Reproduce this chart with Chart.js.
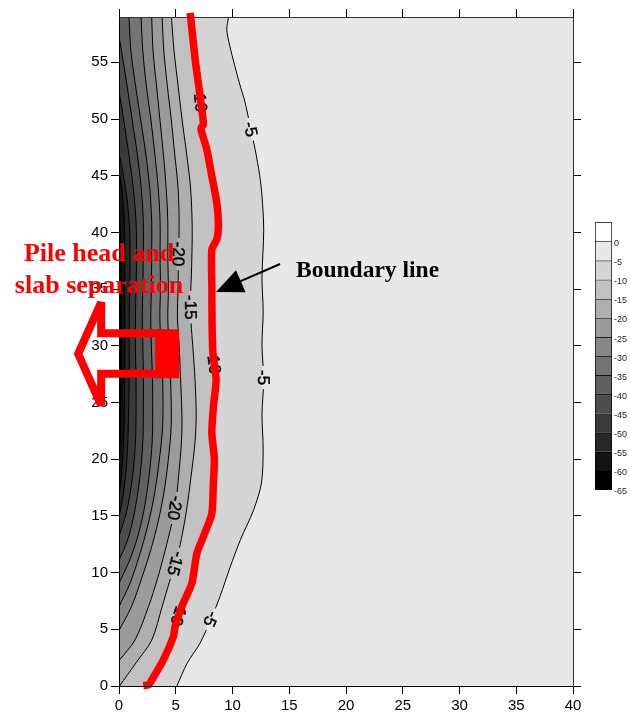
<!DOCTYPE html>
<html>
<head>
<meta charset="utf-8">
<script src="https://cdn.jsdelivr.net/npm/chart.js"></script>
<style>
  html, body { margin: 0; padding: 0; background: #fff; }
  #wrap { position: relative; width: 630px; height: 717px; }
  #main { position: absolute; left: 0; top: 0; }
  #scaleBar { position: absolute; left: 595px; top: 212px; }
</style>
</head>
<body>
<div id="wrap">
  <canvas id="main" width="630" height="717"></canvas>
  <canvas id="scaleBar" width="35" height="288"></canvas>
</div>
<script>
// ---- Contour data: each path is a list of [x, y] points, bottom to top ----
const contourLevels = [-5, -10, -15, -20, -25, -30, -35, -40, -45, -50, -55, -60];

const contour5 = [[5.1,0],[6.0,2.0],[7.15,3.8],[8.1,5.9],[8.9,7.9],[9.8,10.5],[10.7,12.9],[11.85,15.5],[12.55,17.9],[12.7,20.8],[12.6,24],[12.75,27],[12.6,30],[12.7,33],[12.6,36],[12.75,40.2],[12.6,43.2],[12.4,45],[12.0,47.3],[11.55,49.4],[11.1,51.5],[10.6,53.2],[10.2,54.7],[9.75,56.5],[9.5,57.9],[9.65,59]];
const contour10 = [[2.5,0],[2.95,0.6],[3.91,2.3],[4.79,4.35],[4.94,5.23],[5.53,7.0],[6.42,9.06],[6.86,11.7],[7.44,13.2],[8.18,15.2],[8.3,17.5],[8.4,20.0],[8.18,22.3],[8.32,24.65],[8.56,27.0],[8.27,29.4],[8.2,32.0],[8.18,35.2],[8.18,38.5],[8.62,39.4],[8.76,40.6],[8.62,42.6],[8.18,44.95],[7.74,47.3],[7.35,49.3],[7.15,52.0],[6.71,55.25],[6.3,59]];
const contour15 = [[0.05,0],[1.5,2.05],[2.89,4.06],[3.8,7.0],[4.45,9.2],[5.0,10.8],[5.5,13.0],[5.95,15.5],[6.35,18.5],[6.7,21.5],[6.8,24],[6.7,27],[6.5,30],[6.35,32],[6.3,34],[6.4,37],[6.45,40.5],[6.3,44],[5.95,47],[5.55,50],[5.2,53],[4.85,56],[4.62,59]];
const contour20 = [[0,2.23],[1.41,4.06],[2.6,7.0],[3.4,9.5],[3.95,11.5],[4.45,13.5],[4.94,15.7],[5.25,18.5],[5.5,21.5],[5.55,23.5],[5.45,26.5],[5.3,30],[5.15,32.5],[5.2,35],[5.25,38.2],[5.3,41],[5.2,44],[4.9,47],[4.6,50],[4.25,53],[3.95,56],[3.8,59]];
const contour25 = [[0,4.9],[1.1,7.0],[2.0,9.5],[2.8,12.0],[3.45,14.5],[3.95,17.0],[4.35,20],[4.6,23],[4.55,27],[4.4,30],[4.3,32.5],[4.35,35],[4.3,38],[4.3,41],[4.15,44],[3.9,47],[3.6,50],[3.3,53],[3.0,56],[2.88,59]];
const contour30 = [[0,7.0],[0.95,9.0],[1.8,11.5],[2.5,14.0],[3.05,16.5],[3.5,19.5],[3.85,23],[3.85,27],[3.7,30],[3.6,32.5],[3.65,35],[3.62,38],[3.62,41],[3.45,44],[3.15,47],[2.8,50],[2.4,53],[2.1,56],[1.94,59]];
const contour35 = [[0,9.06],[0.9,11.0],[1.6,13.0],[2.2,15.5],[2.65,18.5],[2.92,21.5],[2.97,24],[2.95,27],[2.85,30],[2.8,32.5],[2.85,35],[2.88,38],[2.88,41],[2.7,44],[2.35,47],[1.9,50],[1.45,53],[1.05,56],[0.88,59]];
const contour40 = [[0,11.1],[0.8,13.0],[1.4,15.5],[1.85,18.5],[2.1,21.5],[2.14,24],[2.15,27],[2.1,30],[2.05,32.5],[2.1,35],[2.14,38],[2.14,41],[1.95,44],[1.6,47],[1.15,50],[0.7,53],[0.3,55.5],[0,57.3]];
const contour45 = [[0,13.2],[0.7,15.5],[1.2,18.5],[1.45,21.5],[1.5,24],[1.5,27],[1.45,30],[1.45,32.5],[1.5,35],[1.55,38],[1.5,41],[1.25,44],[0.85,47],[0.4,50],[0,52.5]];
const contour50 = [[0,14.9],[0.4,17],[0.7,20],[0.85,24],[0.9,28],[0.9,32],[0.95,36],[0.95,40],[0.7,43],[0.3,45.5],[0,47]];
const contour55 = [[0,16.7],[0.25,19],[0.45,23],[0.5,28],[0.5,34],[0.5,40],[0.3,43.5],[0,45.5]];
const contour60 = [[0,19.0],[0.12,22],[0.18,28],[0.18,34],[0.15,39],[0,42]];

const contourPaths = [contour5, contour10, contour15, contour20, contour25, contour30,
                      contour35, contour40, contour45, contour50, contour55, contour60];

// Hand-drawn boundary between the separated and bonded zones
const boundaryLine = [[2.14,0.04],[2.59,0.09],[2.89,0.53],[3.91,2.3],[4.79,4.35],[4.94,5.23],[5.53,7.0],[6.42,9.06],[6.86,11.7],[7.44,13.2],[8.18,15.2],[8.3,17.5],[8.4,20.0],[8.18,22.3],[8.32,24.65],[8.56,27.0],[8.27,29.4],[8.2,32.0],[8.18,35.2],[8.18,38.5],[8.62,39.4],[8.76,40.6],[8.62,42.6],[8.18,44.95],[7.74,47.3],[7.21,49.2],[7.44,49.5],[7.15,52.0],[6.71,55.25],[6.27,59.37]];

// Axis ticks
const xTicks = [0, 5, 10, 15, 20, 25, 30, 35, 40];
const yTicks = [0, 5, 10, 15, 20, 25, 30, 35, 40, 45, 50, 55];

// Colour scale: band edges (top to bottom) and their shades
const scaleBarTicks = [0, -5, -10, -15, -20, -25, -30, -35, -40, -45, -50, -55, -60, -65];
const bandShades = ['#ffffff', '#e8e8e8', '#d5d5d5', '#c1c1c1', '#aeaeae', '#9b9b9b', '#878787',
                    '#747474', '#616161', '#4d4d4d', '#3a3a3a', '#272727', '#131313', '#000000'];

// Where the contour values are written along their lines (level, height)
const labelLevels = [-5, -5, -5, -10, -10, -10, -15, -15, -20, -20];
const labelHeights = [49.1, 27.2, 5.9, 51.7, 28.6, 6.4, 33.4, 10.8, 38.1, 15.7];

const SANS = "'Liberation Sans', Arial, sans-serif";
const SERIF = "'Liberation Serif', 'Times New Roman', serif";
Chart.defaults.font.family = SANS;

function shadeFor(level) { return bandShades[-level / 5 + 1]; }

function xAt(path, y) {
  for (let k = 1; k < path.length; k++) {
    const [x0, y0] = path[k - 1], [x1, y1] = path[k];
    if (y >= y0 && y <= y1) {
      const t = y1 === y0 ? 0 : (y - y0) / (y1 - y0);
      return x0 + t * (x1 - x0);
    }
  }
  return path[path.length - 1][0];
}

const datasets = contourLevels.map((lvl, i) => ({
  label: String(lvl),
  data: contourPaths[i].map(([x, y]) => ({ x, y })),
  xAxisID: 'x', yAxisID: 'y',
  borderColor: '#000',
  borderWidth: 1,
  tension: 0.3,
  backgroundColor: shadeFor(lvl),
  fill: { value: 0 },
  pointRadius: 0, pointHoverRadius: 0, pointHitRadius: 0,
  order: 100 - i
}));

datasets.push({
  label: 'Boundary line',
  isBoundary: true,
  data: boundaryLine.map(([x, y]) => ({ x, y })),
  xAxisID: 'x', yAxisID: 'y',
  borderColor: '#ff0000',
  borderWidth: 7.5,
  borderCapStyle: 'butt',
  borderJoinStyle: 'round',
  tension: 0.2,
  fill: false,
  clip: false,
  pointRadius: 0, pointHoverRadius: 0, pointHitRadius: 0,
  order: 0
});

// Plot background (values above -5)
const plotBackground = {
  id: 'plotBackground',
  beforeDraw(chart) {
    const { ctx, chartArea: a } = chart;
    ctx.save();
    ctx.fillStyle = bandShades[1];
    ctx.fillRect(a.left, a.top, a.right - a.left, a.bottom - a.top);
    ctx.restore();
  }
};

// Contour value labels, written under the boundary line
const contourLabels = {
  id: 'contourLabels',
  beforeDatasetDraw(chart, args) {
    if (!chart.data.datasets[args.index].isBoundary) return;
    const { ctx } = chart;
    const xs = chart.scales.x, ys = chart.scales.y;
    ctx.save();
    ctx.font = "17px " + SANS;
    ctx.textAlign = 'center';
    ctx.textBaseline = 'middle';
    labelLevels.forEach((lvl, k) => {
      const path = contourPaths[contourLevels.indexOf(lvl)];
      const y = labelHeights[k];
      const px = xs.getPixelForValue(xAt(path, y));
      const py = ys.getPixelForValue(y);
      const pxA = xs.getPixelForValue(xAt(path, y + 0.9)), pyA = ys.getPixelForValue(y + 0.9);
      const pxB = xs.getPixelForValue(xAt(path, y - 0.9)), pyB = ys.getPixelForValue(y - 0.9);
      const ang = Math.atan2(pyB - pyA, pxB - pxA);
      const txt = String(lvl);
      const w = ctx.measureText(txt).width;
      ctx.save();
      ctx.translate(px, py);
      ctx.rotate(ang);
      ctx.fillStyle = bandShades[-lvl / 5];
      ctx.fillRect(-w / 2 - 4, -1.5, w + 8, 3);
      ctx.fillStyle = '#000';
      ctx.strokeStyle = '#000';
      ctx.lineWidth = 0.4;
      ctx.fillText(txt, 0, 1);
      ctx.strokeText(txt, 0, 1);
      ctx.restore();
    });
    ctx.restore();
  }
};

// Call-outs: separation arrow, its caption and the boundary-line pointer
const calloutPlacement = {
  separationArrow: { x: 5.3, y: 29.3 },
  separationText: { x: -1.76, y1: 37.48, y2: 34.66 },
  pointerTail: { x: 14.19, y: 37.22 },
  pointerTip: { x: 8.55, y: 34.75 },
  pointerText: { x: 15.6, y: 36.07 }
};

const callouts = {
  id: 'callouts',
  afterDraw(chart) {
    const { ctx } = chart;
    const X = v => chart.scales.x.getPixelForValue(v);
    const Y = v => chart.scales.y.getPixelForValue(v);
    const P = calloutPlacement;
    ctx.save();

    // hollow block arrow pointing left
    const ax = X(P.separationArrow.x), ay = Y(P.separationArrow.y);
    ctx.strokeStyle = '#ff0000';
    ctx.fillStyle = '#ff0000';
    ctx.lineWidth = 8;
    ctx.lineJoin = 'miter';
    ctx.miterLimit = 3;
    const outline = [[-101, 0], [-78, -51.5], [-78, -20.5], [-12, -20.5], [-12, 20], [-78, 20], [-78, 51.5]];
    ctx.beginPath();
    outline.forEach(([dx, dy], k) => k ? ctx.lineTo(ax + dx, ay + dy) : ctx.moveTo(ax + dx, ay + dy));
    ctx.closePath();
    ctx.stroke();
    ctx.fillRect(ax - 24, ay - 24.5, 24, 49);

    // red caption
    ctx.font = "bold 26px " + SERIF;
    ctx.textAlign = 'center';
    ctx.textBaseline = 'alphabetic';
    ctx.fillText('Pile head and', X(P.separationText.x), Y(P.separationText.y1));
    ctx.fillText('slab separation', X(P.separationText.x), Y(P.separationText.y2));

    // black pointer to the boundary line
    const sx = X(P.pointerTail.x), sy = Y(P.pointerTail.y);
    const tx = X(P.pointerTip.x), ty = Y(P.pointerTip.y);
    const len = Math.hypot(tx - sx, ty - sy);
    const ux = (tx - sx) / len, uy = (ty - sy) / len;
    const headLen = 27, halfW = 12;
    const bx = tx - ux * headLen, by = ty - uy * headLen;
    ctx.strokeStyle = '#000';
    ctx.fillStyle = '#000';
    ctx.lineWidth = 2;
    ctx.beginPath();
    ctx.moveTo(sx, sy);
    ctx.lineTo(bx + ux * 2, by + uy * 2);
    ctx.stroke();
    ctx.beginPath();
    ctx.moveTo(tx, ty);
    ctx.lineTo(bx - uy * halfW, by + ux * halfW);
    ctx.lineTo(bx + uy * halfW, by - ux * halfW);
    ctx.closePath();
    ctx.fill();

    ctx.font = "bold 23.5px " + SERIF;
    ctx.textAlign = 'left';
    ctx.fillText('Boundary line', X(P.pointerText.x), Y(P.pointerText.y));
    ctx.restore();
  }
};

function frameAxis(pos, min, max, ticks, showLabels, fitSize) {
  const horizontal = pos === 'top' || pos === 'bottom';
  return {
    type: 'linear',
    position: pos,
    min, max,
    afterBuildTicks: s => { s.ticks = ticks.map(v => ({ value: v })); },
    ticks: {
      display: showLabels,
      font: { size: 15, family: SANS },
      color: '#000',
      padding: 3,
      maxRotation: 0,
      autoSkip: false
    },
    grid: { display: true, drawOnChartArea: false, drawTicks: true, tickLength: 8, color: '#000', tickColor: '#000', tickWidth: 1 },
    border: { display: true, color: showLabels ? '#000' : '#333', width: 1, z: 1 },
    afterFit: fitSize ? (s => { if (horizontal) s.height = fitSize; else s.width = fitSize; }) : undefined
  };
}

new Chart(document.getElementById('main'), {
  type: 'line',
  data: { datasets },
  options: {
    responsive: false,
    animation: false,
    indexAxis: 'y',
    layout: { padding: { top: 9, right: 49, left: 0, bottom: 0 } },
    plugins: { legend: { display: false }, tooltip: { enabled: false } },
    events: [],
    scales: {
      x: frameAxis('bottom', 0, 40, xTicks, true, 31),
      y: frameAxis('left', 0, 59, yTicks, true, 119),
      x2: frameAxis('top', 0, 40, xTicks, false, 0),
      y2: frameAxis('right', 0, 59, yTicks, false, 0)
    }
  },
  plugins: [plotBackground, contourLabels, callouts]
});

// ---- Colour scale bar ----
const scaleBands = bandShades.map((c, i) => {
  const hi = i === 0 ? 5 : scaleBarTicks[i - 1];
  const lo = scaleBarTicks[i];
  return {
    data: [[lo, hi]],
    backgroundColor: c,
    borderColor: '#000',
    borderWidth: { top: 1, left: 1, right: 1, bottom: i === bandShades.length - 1 ? 1 : 0 },
    borderSkipped: false,
    grouped: false,
    barPercentage: 1,
    categoryPercentage: 1
  };
});

new Chart(document.getElementById('scaleBar'), {
  type: 'bar',
  data: { labels: [''], datasets: scaleBands },
  options: {
    responsive: false,
    animation: false,
    events: [],
    layout: { padding: { top: 10.3, bottom: 10, left: 0, right: 0 } },
    plugins: { legend: { display: false }, tooltip: { enabled: false } },
    scales: {
      x: { display: false },
      y: {
        position: 'right',
        min: -65, max: 5,
        afterBuildTicks: s => { s.ticks = scaleBarTicks.map(v => ({ value: v })); },
        ticks: { font: { size: 9, family: SANS }, color: '#222', padding: 2, labelOffset: 2, autoSkip: false, callback: v => String(v) },
        grid: { display: false, drawTicks: false },
        border: { display: false },
        afterFit: s => { s.width = 18; }
      }
    }
  }
});
</script>
</body>
</html>
